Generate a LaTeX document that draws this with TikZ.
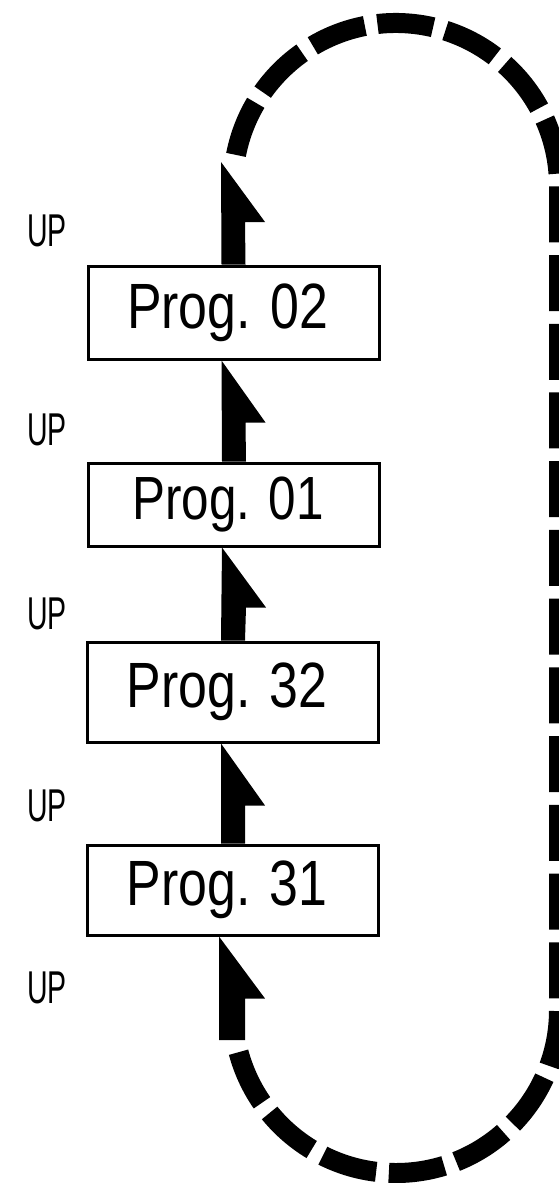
\documentclass[tikz,border=0pt]{standalone}
\usepackage{fontspec}
\newfontfamily\progfont[FakeStretch=0.81]{Liberation Sans}
\newfontfamily\upfont[FakeStretch=0.62]{Liberation Sans}
\usetikzlibrary{calc}
\begin{document}
\begin{tikzpicture}[x=1pt,y=1pt,
  progbox/.style={draw=black, line width=3pt, fill=white, inner sep=0pt,
    minimum width=291pt, font=\progfont\fontsize{64}{70}\selectfont},
  uplabel/.style={inner sep=0pt, font=\upfont\fontsize{46}{50}\selectfont},
  arrowfill/.style={fill=black},
  loopline/.style={draw=black, line width=20pt, line cap=butt,
    dash pattern=on 56pt off 12.73pt}]
\useasboundingbox[fill=white] (0,0) rectangle (558,-1183);

% boxes
\node[progbox, minimum height=93pt] (b02) at (233.5,-312.5) {Prog. 02\kern12pt};
\node[progbox, minimum height=83pt, font=\progfont\fontsize{61}{66}\selectfont] (b01) at (234,-504.5) {Prog. 01\kern12pt};
\node[progbox, minimum height=100pt] (b32) at (233,-692) {Prog. 32\kern12pt};
\node[progbox, minimum height=90pt] (b31) at (233,-890) {Prog. 31\kern12pt};

% free ends of the loop
\coordinate (topend) at (233,-162);
\coordinate (botstart) at (233,-1040);
\coordinate (loopstart) at (236,-154.9);

% UP labels
\node[uplabel] (up1) at (47,-231) {UP};
\node[uplabel] (up2) at (47,-430) {UP};
\node[uplabel] (up3) at (47,-614) {UP};
\node[uplabel] (up4) at (47,-806) {UP};
\node[uplabel] (up5) at (47,-988) {UP};

% dashed return loop
\draw[loopline] (loopstart) arc[start angle=169, end angle=0, radius=163]
  -- (559,-1010) arc[start angle=0, end angle=-165, radius=163];

% half-headed arrows
\fill[arrowfill] ([xshift=-12pt]b02.north) -- ([xshift=-12pt]topend) -- ++(44pt,-60pt) -- ++(-20pt,0pt) -- ([xshift=12pt]b02.north) -- cycle;
\fill[arrowfill] ([xshift=-12pt]b01.north) -- ([xshift=-12pt]b02.south) -- ++(44pt,-62pt) -- ++(-20pt,0pt) -- ([xshift=12pt]b01.north) -- cycle;
\fill[arrowfill] ([xshift=-12pt]b32.north) -- ([xshift=-12pt]b01.south) -- ++(44pt,-60pt) -- ++(-20pt,0pt) -- ([xshift=12pt]b32.north) -- cycle;
\fill[arrowfill] ([xshift=-12pt]b31.north) -- ([xshift=-12pt]b32.south) -- ++(44pt,-62pt) -- ++(-20pt,0pt) -- ([xshift=12pt]b31.north) -- cycle;
\fill[arrowfill] ([xshift=-14pt]botstart) -- ([xshift=-14pt]b31.south) -- ++(46pt,-62pt) -- ++(-20pt,0pt) -- ([xshift=12pt]botstart) -- cycle;
\end{tikzpicture}
\end{document}
